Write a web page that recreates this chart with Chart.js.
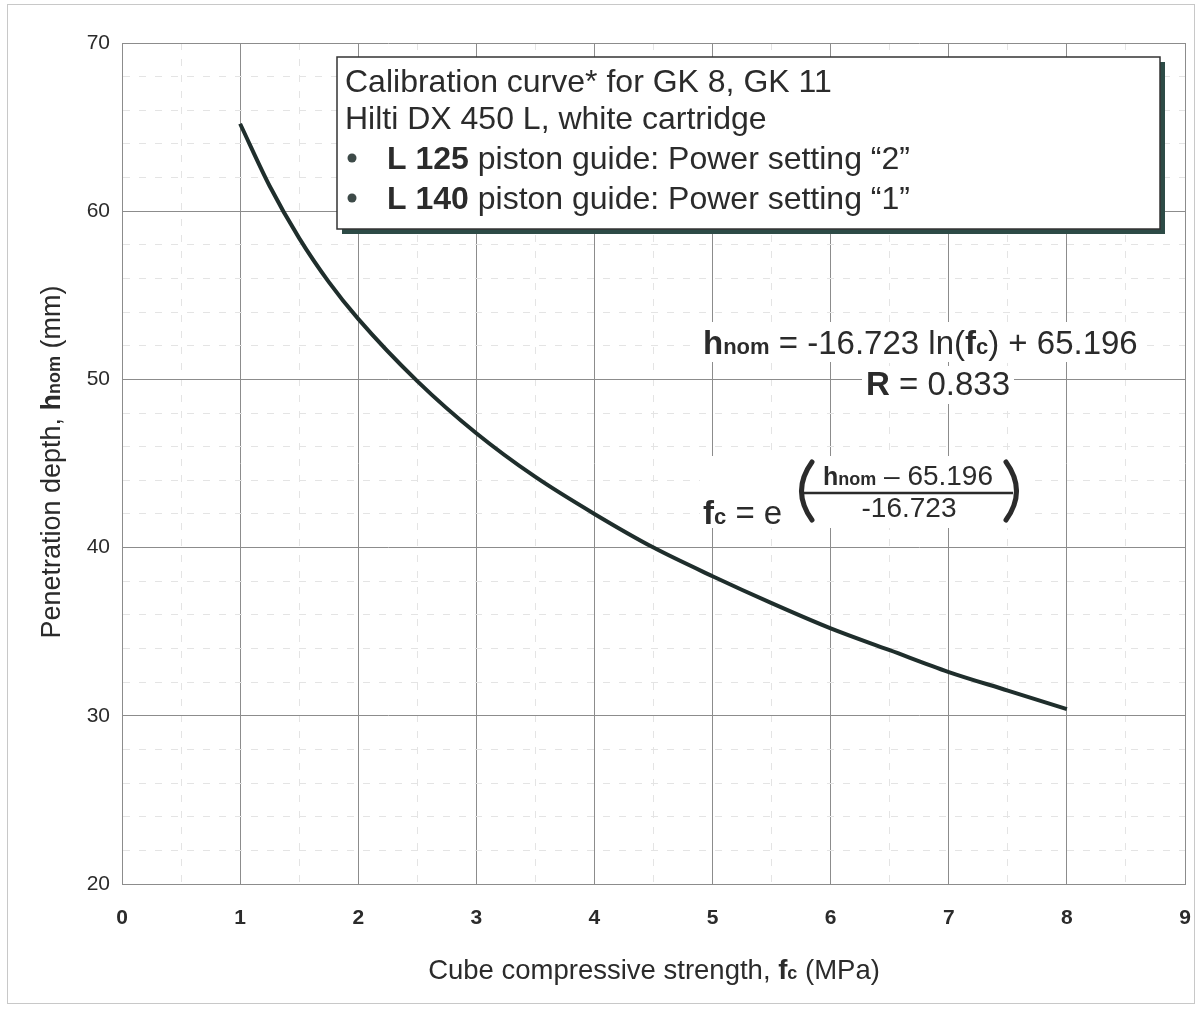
<!DOCTYPE html>
<html>
<head>
<meta charset="utf-8">
<script src="https://cdn.jsdelivr.net/npm/chart.js@4.4.1/dist/chart.umd.min.js"></script>
<style>
  html, body { margin: 0; background: #fff; }
  #wrap { width: 1200px; height: 1009px; position: relative; }
</style>
</head>
<body>
<div id="wrap"><canvas id="calChart"></canvas></div>
<script>
// values
const strengthMPa = [1.0, 1.25, 1.5, 1.75, 2.0, 2.5, 3.0, 3.5, 4.0, 4.5, 5.0, 5.5, 6.0, 6.5, 7.0, 7.5, 8.0];
const depthMm     = [65.2, 61.5, 58.4, 55.8, 53.6, 49.9, 46.8, 44.2, 42.0, 40.0, 38.3, 36.7, 35.2, 33.9, 32.6, 31.5, 30.4];
const xTickLabels = ['0', '1', '2', '3', '4', '5', '6', '7', '8', '9'];
const yTickLabels = ['20', '30', '40', '50', '60', '70'];

const FAM = '"Liberation Sans", Arial, sans-serif';
const TXT = '#2b2b2b';
const reg = s => `${s}px ${FAM}`;
const bold = s => `bold ${s}px ${FAM}`;

// draw a row of differently styled text pieces
function drawRuns(ctx, runs, x, y, align) {
    let total = 0;
    runs.forEach(r => { ctx.font = r[1]; total += ctx.measureText(r[0]).width; });
    let cx = x;
    if (align === 'center') cx = x - total / 2;
    if (align === 'right') cx = x - total;
    ctx.textAlign = 'left';
    ctx.textBaseline = 'alphabetic';
    runs.forEach(r => {
        ctx.font = r[1];
        ctx.fillText(r[0], cx, y);
        cx += ctx.measureText(r[0]).width;
    });
    return total;
}

const notes = {
    id: 'notes',
    afterDraw(chart) {
        const ctx = chart.ctx;
        ctx.save();

        // outer frame
        ctx.strokeStyle = '#c8c8c8';
        ctx.lineWidth = 1;
        ctx.strokeRect(7.5, 4.5, 1187, 999);

        // legend box with shadow
        ctx.fillStyle = '#2d4b46';
        ctx.fillRect(342, 62, 823, 172);
        ctx.fillStyle = '#fff';
        ctx.fillRect(337, 57, 823, 172);
        ctx.strokeStyle = '#333';
        ctx.lineWidth = 1.5;
        ctx.strokeRect(337, 57, 823, 172);

        ctx.fillStyle = TXT;
        drawRuns(ctx, [['Calibration curve* for GK 8, GK 11', reg(32)]], 345, 92);
        drawRuns(ctx, [['Hilti DX 450 L, white cartridge', reg(32)]], 345, 129);
        ctx.fillStyle = '#3d4a48';
        [158, 198].forEach(cy => { ctx.beginPath(); ctx.arc(352, cy, 4.5, 0, Math.PI * 2); ctx.fill(); });
        ctx.fillStyle = TXT;
        drawRuns(ctx, [['L 125', bold(32)], [' piston guide: Power setting \u201c2\u201d', reg(32)]], 387, 169);
        drawRuns(ctx, [['L 140', bold(32)], [' piston guide: Power setting \u201c1\u201d', reg(32)]], 387, 209);

        // regression equation
        ctx.fillStyle = '#fff';
        ctx.fillRect(698, 322, 444, 40);
        ctx.fillRect(862, 366, 152, 38);
        ctx.fillStyle = TXT;
        drawRuns(ctx, [['h', bold(33)], ['nom', bold(22)], [' = -16.723 ln(', reg(33)], ['f', bold(33)], ['c', bold(22)], [') + 65.196', reg(33)]], 703, 354);
        drawRuns(ctx, [['R', bold(33)], [' = 0.833', reg(33)]], 938, 395, 'center');

        // inverse formula
        ctx.fillStyle = '#fff';
        ctx.fillRect(700, 456, 330, 72);
        ctx.fillStyle = TXT;
        drawRuns(ctx, [['f', bold(33)], ['c', bold(22)], [' = e', reg(33)]], 703, 524);
        drawRuns(ctx, [['h', bold(25)], ['nom', bold(18)], [' \u2013 65.196', reg(28)]], 908, 485, 'center');
        drawRuns(ctx, [['-16.723', reg(28)]], 909, 517, 'center');
        ctx.strokeStyle = TXT;
        ctx.lineWidth = 2.5;
        ctx.beginPath(); ctx.moveTo(800, 493); ctx.lineTo(1013, 493); ctx.stroke();
        ctx.lineWidth = 5;
        ctx.lineCap = 'round';
        ctx.beginPath(); ctx.moveTo(812, 462); ctx.quadraticCurveTo(791, 491, 812, 520); ctx.stroke();
        ctx.beginPath(); ctx.moveTo(1006, 462); ctx.quadraticCurveTo(1027, 491, 1006, 520); ctx.stroke();

        // axis titles
        drawRuns(ctx, [['Cube compressive strength, ', reg(27.5)], ['f', bold(27.5)], ['c', bold(18)], [' (MPa)', reg(27.5)]], 654, 979, 'center');
        ctx.translate(60, 462);
        ctx.rotate(-Math.PI / 2);
        drawRuns(ctx, [['Penetration depth, ', reg(27)], ['h', bold(27)], ['nom', bold(18)], [' (mm)', reg(27)]], 0, 0, 'center');
        ctx.restore();
    }
};

const ctx = document.getElementById('calChart').getContext('2d');
new Chart(ctx, {
    type: 'line',
    data: {
        datasets: [{
            data: strengthMPa.map((x, i) => ({ x: x, y: depthMm[i] })),
            borderColor: '#1f2e2c',
            borderWidth: 4,
            pointRadius: 0,
            cubicInterpolationMode: 'monotone',
            fill: false
        }]
    },
    options: {
        responsive: true,
        maintainAspectRatio: false,
        animation: false,
        layout: { padding: { left: 0, top: 43, right: 15, bottom: 0 } },
        plugins: { legend: { display: false }, tooltip: { enabled: false } },
        scales: {
            x: {
                type: 'linear',
                min: 0,
                max: 9,
                afterFit: s => { s.height = 125; s.paddingLeft = 0; s.paddingRight = 0; },
                ticks: {
                    stepSize: 0.5,
                    autoSkip: false,
                    maxRotation: 0,
                    padding: 22,
                    color: TXT,
                    font: { family: FAM, size: 21, weight: 'bold' },
                    callback: v => Number.isInteger(v) ? xTickLabels[v] : ''
                },
                grid: {
                    drawTicks: false,
                    color: c => Number.isInteger(c.tick.value) ? '#8c8c8c' : '#e4e4e4',
                    lineWidth: 1
                },
                border: {
                    color: '#8c8c8c',
                    dash: c => (c.tick && !Number.isInteger(c.tick.value)) ? [7, 9] : []
                }
            },
            y: {
                type: 'linear',
                min: 20,
                max: 70,
                afterFit: s => { s.width = 122; },
                ticks: {
                    stepSize: 2,
                    autoSkip: false,
                    padding: 12,
                    color: TXT,
                    font: { family: FAM, size: 21 },
                    callback: v => v % 10 === 0 ? yTickLabels[(v - 20) / 10] : ''
                },
                grid: {
                    drawTicks: false,
                    color: c => c.tick.value % 10 === 0 ? '#8c8c8c' : '#e4e4e4',
                    lineWidth: 1
                },
                border: {
                    color: '#8c8c8c',
                    dash: c => (c.tick && c.tick.value % 10 !== 0) ? [7, 9] : []
                }
            }
        }
    },
    plugins: [notes]
});
</script>
</body>
</html>
